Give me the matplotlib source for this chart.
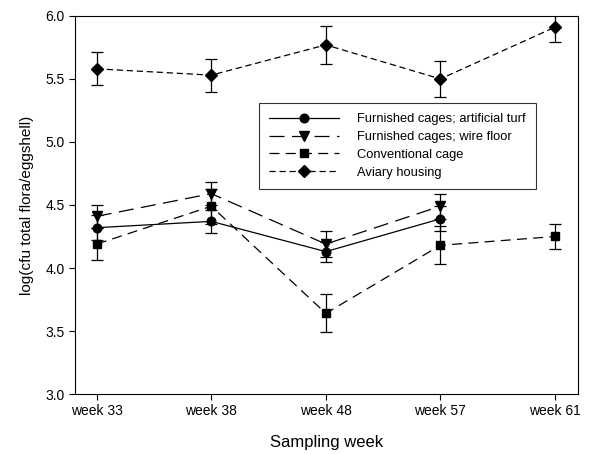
import matplotlib
matplotlib.use("Agg")
import matplotlib.pyplot as plt
from matplotlib.lines import Line2D

plt.rcParams['font.family'] = ['Liberation Sans', 'DejaVu Sans']

weeks = ["week 33", "week 38", "week 48", "week 57", "week 61"]

turf = [4.32, 4.37, 4.13, 4.39]
turf_err = [0.10, 0.09, 0.08, 0.10]
wire = [4.41, 4.59, 4.19, 4.49]
wire_err = [0.09, 0.09, 0.10, 0.10]
conv = [4.19, 4.49, 3.64, 4.18, 4.25]
conv_err = [0.13, 0.14, 0.15, 0.15, 0.10]
aviary = [5.58, 5.53, 5.77, 5.50, 5.91]
aviary_err = [0.13, 0.13, 0.15, 0.14, 0.12]

series = [
    ("Furnished cages; artificial turf", turf, turf_err, 'o', '-', 6.2),
    ("Furnished cages; wire floor", wire, wire_err, 'v', (0, (12, 6)), 6.5),
    ("Conventional cage", conv, conv_err, 's', (0, (8, 5)), 5.8),
    ("Aviary housing", aviary, aviary_err, 'D', (0, (5, 3)), 6.0),
]

fig = plt.figure(figsize=(6.05, 4.54), dpi=100)
ax = fig.add_axes([0.124, 0.132, 0.831, 0.833])

handles = []
for label, vals, errs, m, ls, ms in series:
    x = list(range(len(vals)))
    ax.errorbar(x, vals, yerr=errs, fmt='none', ecolor='black', elinewidth=0.9,
                capsize=4, capthick=0.9, zorder=2)
    ax.plot(x, vals, color='black', linestyle=ls, linewidth=0.9, marker=m,
            markersize=ms, markerfacecolor='black', markeredgecolor='black', zorder=3)
    handles.append(Line2D([], [], color='black', linestyle=ls, linewidth=0.9, marker=m,
                          markersize=ms, label=label))

ax.set_xlim(-0.19, 4.2)
ax.set_ylim(3.0, 6.0)
ax.set_xticks(range(len(weeks)))
ax.set_xticklabels(weeks)
ax.set_yticks([3.0, 3.5, 4.0, 4.5, 5.0, 5.5, 6.0])
ax.set_yticklabels(["3.0", "3.5", "4.0", "4.5", "5.0", "5.5", "6.0"])
ax.tick_params(direction='out', length=4, width=0.8, labelsize=10, colors='black')
for s in ax.spines.values():
    s.set_linewidth(0.8)
ax.set_xlabel("Sampling week", fontsize=12, labelpad=12)
ax.set_ylabel("log(cfu total flora/eggshell)", fontsize=11, labelpad=8)

leg = ax.legend(handles=handles, loc='upper left', bbox_to_anchor=(0.366, 0.770),
                borderaxespad=0, frameon=True, fancybox=False, edgecolor='black',
                fontsize=9.3, handlelength=5.4, labelspacing=0.45, borderpad=0.8,
                handletextpad=1.4)
leg.get_frame().set_linewidth(0.8)

fig.savefig("out.png", dpi=100)
